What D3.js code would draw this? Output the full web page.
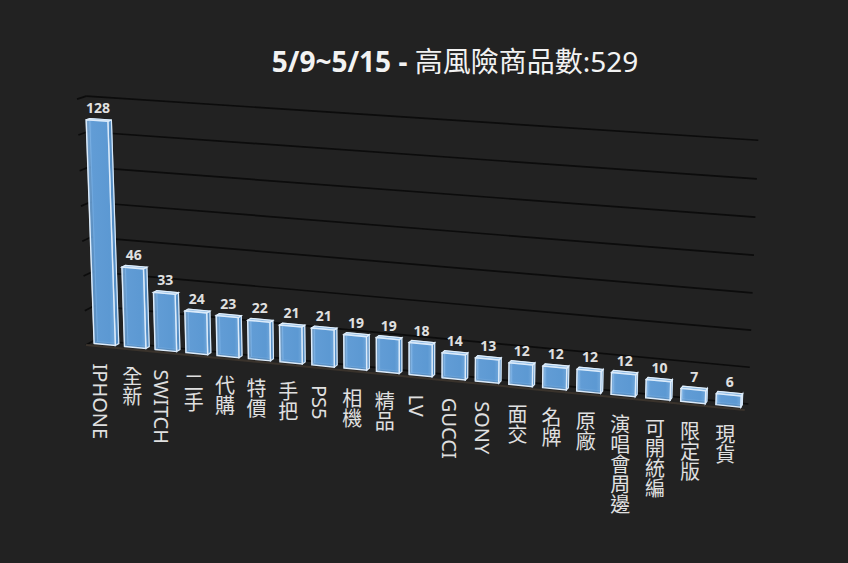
<!DOCTYPE html>
<html>
<head>
<meta charset="utf-8">
<script src="https://cdn.jsdelivr.net/npm/d3@7"></script>
<style>
  html, body { margin: 0; padding: 0; background: #222222; }
  svg { display: block; }
</style>
</head>
<body>
<div id="container"></div>
<script>
const width = 848,
  height = 563;

// data
const categories = ["IPHONE", "全新", "SWITCH", "二手", "代購", "特價", "手把", "PS5", "相機", "精品",
  "LV", "GUCCI", "SONY", "面交", "名牌", "原廠", "演唱會周邊", "可開統編", "限定版", "現貨"];
const counts = [128, 46, 33, 24, 23, 22, 21, 21, 19, 19, 18, 14, 13, 12, 12, 12, 12, 10, 7, 6];
const yTicks = [0, 20, 40, 60, 80, 100, 120, 140];
const titleBold = "5/9~5/15 -";
const titleRest = " 高風險商品數:529";

// 3d frame: x = category axis, y = value axis, z = depth toward the viewer (0 = back wall)
// projection built from vanishing points
const origin = [95, 340];
const vpX = [-7460, -400], kX = 0.0796;
const vpY = [414, 9300], kY = 0.0265;
const vpZ = [1150, -250], kZ = 0.006;

function project(x, y, z) {
  const hx = origin[0] - kX * x * vpX[0] - kY * y * vpY[0] - kZ * z * vpZ[0];
  const hy = origin[1] - kX * x * vpX[1] - kY * y * vpY[1] - kZ * z * vpZ[1];
  const w = 1 - kX * x - kY * y - kZ * z;
  return [hx / w, hy / w];
}

const xScale = d3.scaleBand()
  .domain(categories)
  .range([0, 1])
  .paddingInner(0.3)
  .paddingOuter(0.15);

const yScale = d3.scaleLinear()
  .domain([0, 140])
  .range([0, 1]);

const zBack = 0.3, zFront = 0.85, zFloor = 1.4;

const svg = d3.select("#container")
  .append("svg")
  .attr("width", width)
  .attr("height", height)
  .style("font-family", "'Noto Sans', 'Noto Sans CJK TC', sans-serif");

svg.append("rect")
  .attr("width", width)
  .attr("height", height)
  .attr("fill", "#222222");

const defs = svg.append("defs");
const grad = defs.append("linearGradient")
  .attr("id", "glass")
  .attr("x1", 0).attr("x2", 1).attr("y1", 0).attr("y2", 0);
grad.append("stop").attr("offset", "0%").attr("stop-color", "#8cbdec");
grad.append("stop").attr("offset", "20%").attr("stop-color", "#68a4de");
grad.append("stop").attr("offset", "80%").attr("stop-color", "#62a0db");
grad.append("stop").attr("offset", "100%").attr("stop-color", "#7ab1e4");

// title
const title = svg.append("text")
  .attr("x", 455)
  .attr("y", 72)
  .attr("text-anchor", "middle")
  .attr("fill", "#f2f2f2")
  .style("font-size", "28px");
title.append("tspan").attr("font-weight", "bold").text(titleBold);
title.append("tspan").text(titleRest);

// gridlines on the back wall + short stubs on the side wall
const line = d3.line();
svg.selectAll(".grid")
  .data(yTicks)
  .join("path")
  .attr("class", "grid")
  .attr("d", t => line([project(0, yScale(t), 0), project(1, yScale(t), 0)]))
  .attr("stroke", "#0c0c0c")
  .attr("stroke-width", 1.7)
  .attr("fill", "none");

svg.selectAll(".stub")
  .data(yTicks)
  .join("path")
  .attr("class", "stub")
  .attr("d", t => line([project(0, yScale(t), 0), project(0, yScale(t), zFloor)]))
  .attr("stroke", "#0c0c0c")
  .attr("stroke-width", 1.7)
  .attr("fill", "none");

// floor front edge
svg.append("path")
  .attr("d", line([project(0, 0, zFloor), project(1, 0, zFloor)]))
  .attr("stroke", "#3a332c")
  .attr("stroke-width", 2)
  .attr("fill", "none");

// bars as glass boxes
function faces(d, i) {
  const x0 = xScale(categories[i]), x1 = x0 + xScale.bandwidth();
  const y0 = 0, y1 = yScale(d);
  const P = (x, y, z) => project(x, y, z);
  return {
    back: [P(x0, y0, zBack), P(x1, y0, zBack), P(x1, y1, zBack), P(x0, y1, zBack)],
    left: [P(x0, y0, zBack), P(x0, y0, zFront), P(x0, y1, zFront), P(x0, y1, zBack)],
    side: [P(x1, y0, zFront), P(x1, y0, zBack), P(x1, y1, zBack), P(x1, y1, zFront)],
    top: [P(x0, y1, zFront), P(x1, y1, zFront), P(x1, y1, zBack), P(x0, y1, zBack)],
    front: [P(x0, y0, zFront), P(x1, y0, zFront), P(x1, y1, zFront), P(x0, y1, zFront)]
  };
}
const poly = pts => "M" + pts.map(p => p.join(",")).join("L") + "Z";

const bars = svg.selectAll(".bar")
  .data(counts)
  .join("g")
  .attr("class", "bar");

bars.append("path").attr("d", (d, i) => poly(faces(d, i).back))
  .attr("fill", "#3a6fa3").attr("stroke", "#a9cdf0").attr("stroke-width", 1).attr("stroke-opacity", 0.7);
bars.append("path").attr("d", (d, i) => poly(faces(d, i).left))
  .attr("fill", "none").attr("stroke", "#a9cdf0").attr("stroke-width", 1).attr("stroke-opacity", 0.7);
bars.append("path").attr("d", (d, i) => poly(faces(d, i).side))
  .attr("fill", "#5a91c8").attr("fill-opacity", 0.9)
  .attr("stroke", "#d6e8f9").attr("stroke-width", 1.2);
bars.append("path").attr("d", (d, i) => poly(faces(d, i).top))
  .attr("fill", "#9cc5ec").attr("fill-opacity", 0.9)
  .attr("stroke", "#e2effb").attr("stroke-width", 1.2);
bars.append("path").attr("d", (d, i) => poly(faces(d, i).front))
  .attr("fill", "url(#glass)").attr("fill-opacity", 0.85)
  .attr("stroke", "#dcebfa").attr("stroke-width", 1.4);

// value labels
const topCenter = (d, i) => project(xScale(categories[i]) + xScale.bandwidth() / 2, yScale(d), zFront);
svg.selectAll(".value")
  .data(counts)
  .join("text")
  .attr("class", "value")
  .attr("x", (d, i) => topCenter(d, i)[0] + 1)
  .attr("y", (d, i) => topCenter(d, i)[1] - 8)
  .attr("text-anchor", "middle")
  .attr("fill", "#e0e0e0")
  .attr("font-weight", "bold")
  .style("font-size", "14px")
  .text(d => d);

// category labels, vertical
const floorCenter = d => project(xScale(d) + xScale.bandwidth() / 2, 0, zFront);
svg.selectAll(".cat")
  .data(categories)
  .join("text")
  .attr("class", "cat")
  .attr("x", d => floorCenter(d)[0] - 4)
  .attr("y", d => floorCenter(d)[1] + 19)
  .style("writing-mode", "vertical-rl")
  .attr("fill", "#e0e0e0")
  .style("font-size", "20px")
  .text(d => d);
</script>
</body>
</html>
